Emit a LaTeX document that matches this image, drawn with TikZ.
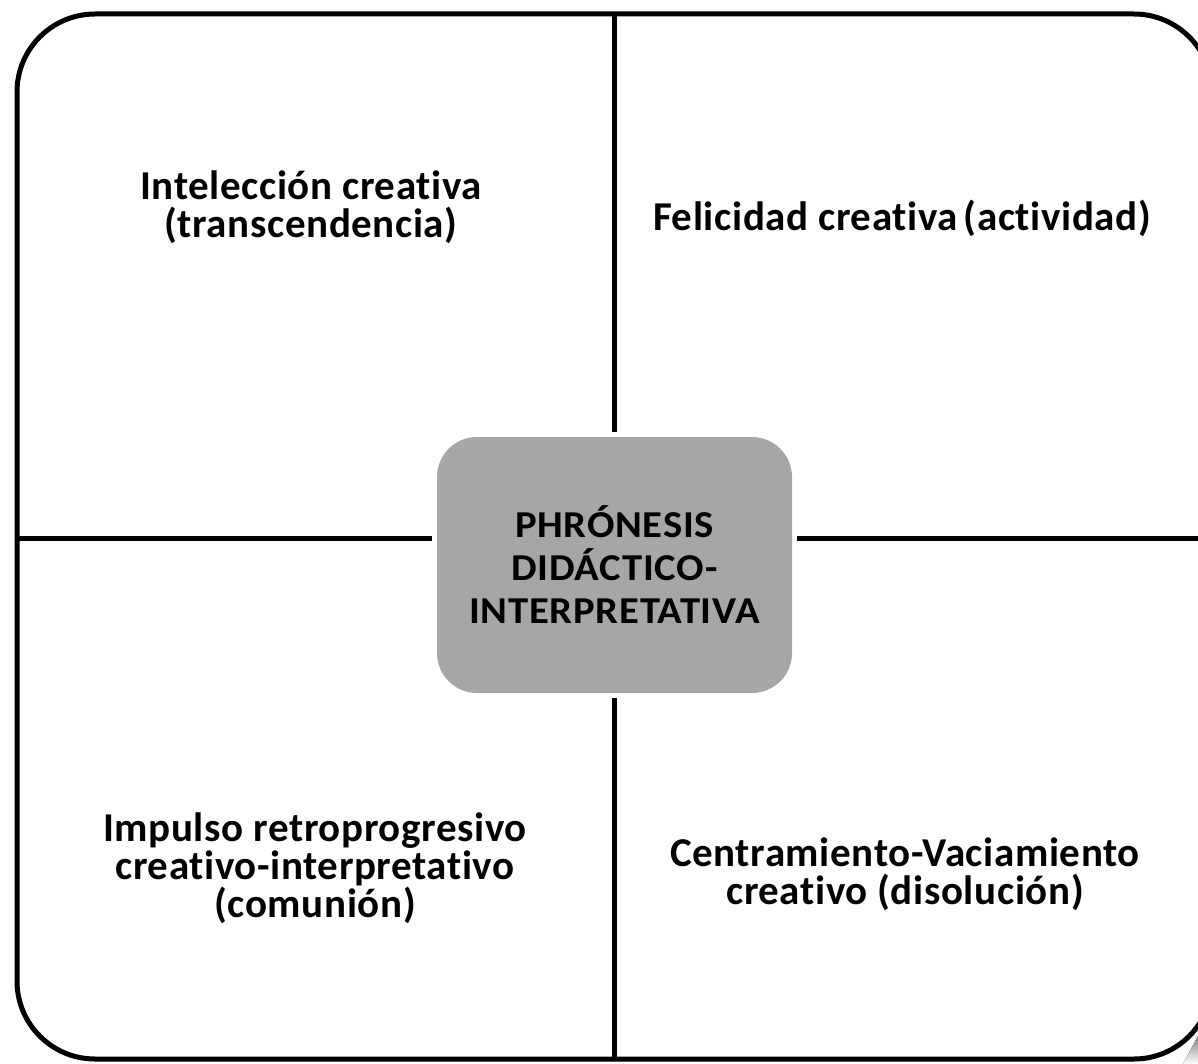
\documentclass[tikz,border=0pt]{standalone}
\usepackage{fontspec}
\setmainfont{Carlito}
\newfontfamily\qfont[Ligatures={NoCommon},LetterSpace=1.5]{Carlito}
\newfontfamily\cfont[Ligatures={NoCommon},FakeStretch=1.07,LetterSpace=2]{Carlito}
\definecolor{coregray}{HTML}{A6A6A6}
\definecolor{shade}{HTML}{E6E6E6}
\tikzset{
  frame/.style={draw=black,line width=5pt,rounded corners=78pt},
  divider/.style={draw=black,line width=5pt},
  core/.style={fill=coregray,rounded corners=40pt,minimum width=355pt,minimum height=256pt,
    align=center,inner sep=0pt,font=\cfont\bfseries\fontsize{38}{43}\selectfont},
  quad/.style={align=center,inner sep=0pt,font=\qfont\bfseries\fontsize{41}{38}\selectfont}
}
\begin{document}
\begin{tikzpicture}[x=1pt,y=-1pt]
\useasboundingbox (0,0) rectangle (1198,1064);
\fill[shade] (1183,1064) -- (1198,1036) -- (1198,1064) -- cycle;
\draw[frame] (17,14) rectangle (1212,1059);
\coordinate (ftop) at (614,14);
\coordinate (fbot) at (614,1059);
\coordinate (fleft) at (17,538);
\coordinate (fright) at (1212,538);
\node[core] (core) at (614.5,565) {PHRÓNESIS\\DIDÁCTICO-\\INTERPRETATIVA};
\draw[divider,shorten >=5pt] (ftop) -- (ftop |- core.north);
\draw[divider,shorten >=5pt] (fbot) -- (fbot |- core.south);
\draw[divider,shorten >=5pt] (fleft) -- (fleft -| core.west);
\draw[divider,shorten >=5pt] (fright) -- (fright -| core.east);
\node[quad] (q1) at (311,207) {Intelección creativa\\(transcendencia)};
\node[quad] (q2) at (902,218) {Felicidad creativa\hspace{6pt}(actividad)};
\node[quad] (q3) at (315,868) {Impulso retroprogresivo\\creativo-interpretativo\\(comunión)};
\node[quad] (q4) at (905,874) {Centramiento-Vaciamiento\\creativo (disolución)};
\end{tikzpicture}
\end{document}
